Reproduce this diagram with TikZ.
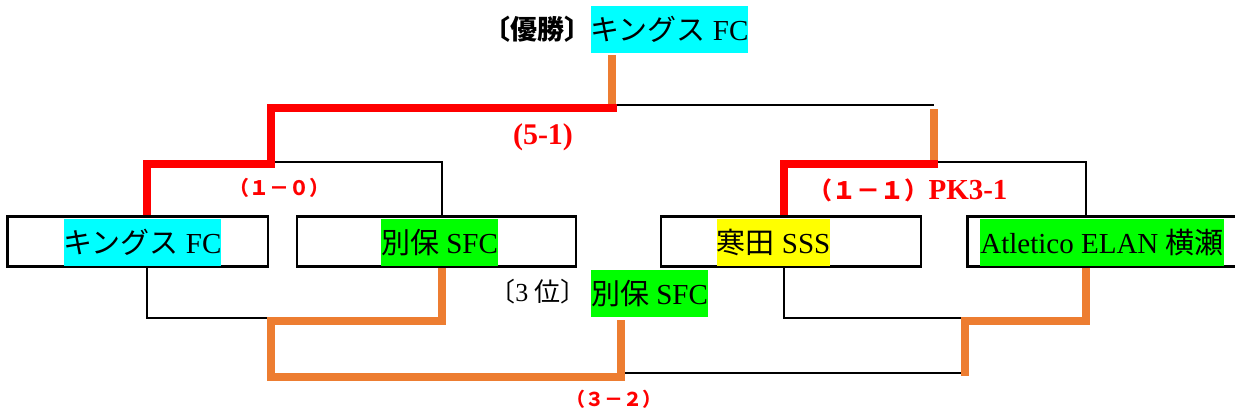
\documentclass[tikz,border=0pt]{standalone}
\usepackage{fontspec}
\setmainfont{Liberation Serif}
\newfontfamily\J{Noto Sans CJK JP}
\definecolor{win}{HTML}{FF0000}
\definecolor{lose}{HTML}{ED7D31}
\definecolor{hcyan}{HTML}{00FFFF}
\definecolor{hgreen}{HTML}{00FF00}
\definecolor{hyellow}{HTML}{FFFF00}
\begin{document}
\begin{tikzpicture}[x=1pt,y=-1pt,
  thinln/.style={draw=black,line width=2.5pt},
  winpath/.style={draw=win,line width=8.5pt,line join=miter},
  losepath/.style={draw=lose,line width=8.5pt,line join=miter},
  cell/.style={draw=black,line width=2.5pt,minimum height=50pt,inner sep=0pt},
  team/.style={inner xsep=0pt,inner ysep=0pt,minimum height=47pt,font=\fontsize{29}{34}\selectfont},
  score/.style={text=win,inner sep=0pt}]
\useasboundingbox (0,0) rectangle (1235,415);

% team cells
\node[cell,minimum width=260.5pt] (b1) at (137.75,241.5) {};
\node[cell,minimum width=279pt] (b2) at (436.5,241.5) {};
\node[cell,minimum width=260pt] (b3) at (791,241.5) {};
\node[cell,minimum width=272.5pt] (b4) at (1103.75,241.5) {};

% team names
\node[team,fill=hcyan] (t1) at (142.5,242.5) {{\J キングス} FC};
\node[team,fill=hgreen] (t2) at (439.5,242.5) {{\J 別保} SFC};
\node[team,fill=hyellow] (t3) at (773.5,242.5) {{\J 寒田} SSS};
\node[team,fill=hgreen] (t4) at (1102,242.5) {Atletico ELAN {\J 横瀬}};

% champion and third place
\node[team,fill=hcyan] (champ) at (669.5,29.5) {{\J キングス} FC};
\node[inner sep=0pt,font=\fontsize{27}{30}\selectfont\J\bfseries] (champlbl) at (537,29) {〔優勝〕};
\node[team,fill=hgreen] (third) at (649.5,293.5) {{\J 別保} SFC};
\node[inner sep=0pt,font=\fontsize{26}{30}\selectfont] (thirdlbl) at (538,292) {{\J 〔}3 {\J 位〕}};

% scores
\node[score,font=\fontsize{30}{32}\selectfont\bfseries] (s51) at (543,137) {(5-1)};
\node[score,font=\fontsize{20}{24}\selectfont\J\bfseries] (s10) at (279,188) {（１－０）};
\node[score] (s11) at (908,190) {{\fontsize{24}{26}\selectfont\J\bfseries （１－１）}{\fontsize{29}{32}\selectfont\bfseries PK3-1}};
\node[score,font=\fontsize{19}{22}\selectfont\J\bfseries] (s32) at (614,399) {（３－２）};

% junction coordinates
\coordinate (j1) at (147,164);
\coordinate (j2) at (442,162);
\coordinate (k1) at (271,108);
\coordinate (fin) at (617,108);
\coordinate (cf) at (612,112);
\coordinate (blk) at (934,105);
\coordinate (j3) at (784,164);
\coordinate (j4) at (1086,162);
\coordinate (k2) at (934,164);
\coordinate (k2r) at (938,164);
\coordinate (k2top) at (934,109);
\coordinate (m1) at (147,318);
\coordinate (m2) at (442,321);
\coordinate (n1) at (271,377);
\coordinate (n2) at (621,377);
\coordinate (n2t) at (621,320);
\coordinate (bl) at (965,373);
\coordinate (m3) at (784,318);
\coordinate (m4) at (1086,321);
\coordinate (r1) at (965,318);
\coordinate (r2) at (965,376);

% black (losing) connectors
\draw[thinln] (b2.north -| j2) -- (j2) -- (j2 -| k1);
\draw[thinln] (blk -| fin) -- (blk);
\draw[thinln] (b4.north -| j4) -- (j4) -- (j4 -| k2);
\draw[thinln] (b1.south -| m1) -- (m1) -- (m1 -| n1);
\draw[thinln] (b3.south -| m3) -- (m3) -- (r1);
\draw[thinln] (bl -| n2) -- (bl);

% orange connectors
\draw[losepath] (champ.south -| cf) ++(0,2) -- (cf);
\draw[losepath] (k2) -- (k2top);
\draw[losepath] (b2.south -| m2) -- (m2) -| (n1) -- (n2) -- (n2t);
\draw[losepath] (b4.south -| m4) -- (m4) -| (r2);

% red (winning) connectors
\draw[winpath] (b1.north -| j1) -- (j1) -| (k1) -- (fin);
\draw[winpath] (b3.north -| j3) -- (j3) -- (k2r);
\end{tikzpicture}
\end{document}
